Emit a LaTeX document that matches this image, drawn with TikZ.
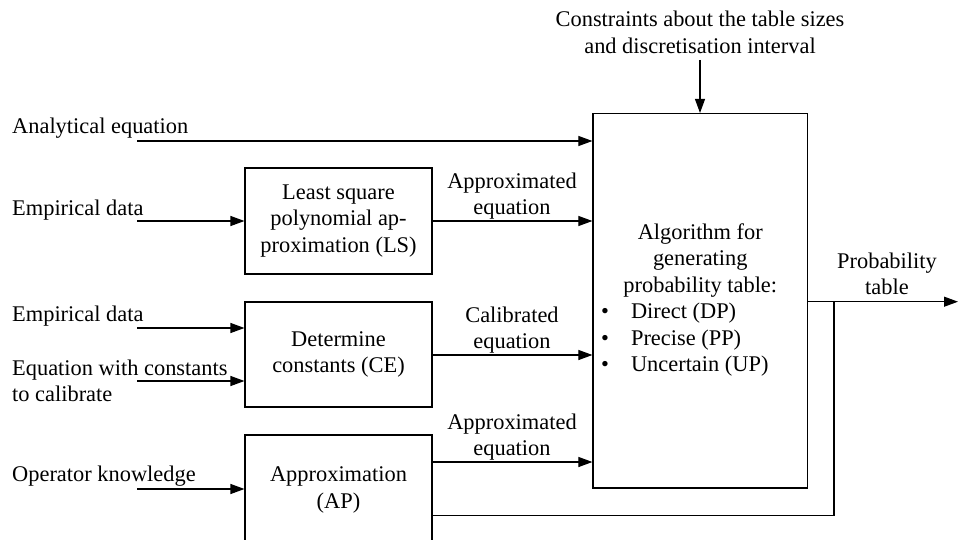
\documentclass[tikz,border=0pt]{standalone}
\usepackage{fontspec}
\setmainfont{Liberation Serif}
\usetikzlibrary{arrows.meta}

\begin{document}
\begin{tikzpicture}[x=1pt, y=-1pt,
  txt/.style={inner sep=0pt, font=\fontsize{22.4}{26.5}\selectfont},
  box/.style={draw, line width=1.1pt, inner sep=0pt,
    font=\fontsize{22.4}{26.5}\selectfont, align=center},
  flow/.style={line width=1.1pt, -{Triangle[length=14pt,width=10pt]}},
  wire/.style={line width=1.1pt}]
\useasboundingbox (0,0) rectangle (960,540);

% processing blocks
\node[box, minimum width=187pt, minimum height=106pt] (ls) at (338.5,221)
  {Least square\\polynomial ap-\\proximation (LS)};
\node[box, minimum width=187pt, minimum height=105pt] (ce) at (338.5,354.5)
  {Determine\\constants (CE)};
\node[box, minimum width=187pt, minimum height=110pt] (ap) at (338.5,490)
  {Approximation\\(AP)};
\node[box, minimum width=214.7pt, minimum height=374.5pt] (alg) at (700.3,300.75) {};

% text inside the algorithm block
\node[txt, anchor=base] (algtitle) at (700.3,239)
  {\begin{tabular}[t]{@{}c@{}}Algorithm for\\generating\\probability table:\end{tabular}};
\node[txt, anchor=base west] (alglist) at (601,318.5)
  {\begin{tabular}[t]{@{}l@{\hspace{22pt}}l@{}}\textbullet & Direct (DP)\\
   \textbullet & Precise (PP)\\ \textbullet & Uncertain (UP)\end{tabular}};

% external inputs
\node[txt, anchor=base west] (in1) at (12,134) {Analytical equation};
\node[txt, anchor=base west] (in2) at (12,215) {Empirical data};
\node[txt, anchor=base west] (in3) at (12,321.7) {Empirical data};
\node[txt, anchor=base west] (in4) at (12,375)
  {\begin{tabular}[t]{@{}l@{}}Equation with constants\\to calibrate\end{tabular}};
\node[txt, anchor=base west] (in5) at (12,481.7) {Operator knowledge};
\node[txt, anchor=base] (top) at (700,27)
  {\begin{tabular}[t]{@{}c@{}}Constraints about the table sizes\\and discretisation interval\end{tabular}};

\coordinate (s1) at (137,141);
\coordinate (s2) at (137,221);
\coordinate (s3) at (137,328);
\coordinate (s4) at (137,381);
\coordinate (s5) at (137,489);
\coordinate (st) at (700,60);

\draw[flow] (s1) -- (s1 -| alg.west);
\draw[flow] (s2) -- (s2 -| ls.west);
\draw[flow] (s3) -- (s3 -| ce.west);
\draw[flow] (s4) -- (s4 -| ce.west);
\draw[flow] (s5) -- (s5 -| ap.west);
\draw[flow] (st) -- (st |- alg.north);

% intermediate results
\coordinate (o1) at (432,221);
\coordinate (o2) at (432,355);
\coordinate (o3) at (432,462);
\draw[flow] (o1 -| ls.east) -- (o1 -| alg.west);
\draw[flow] (o2 -| ce.east) -- (o2 -| alg.west);
\draw[flow] (o3 -| ap.east) -- (o3 -| alg.west);

\node[txt, anchor=base] (l1) at (512,188)
  {\begin{tabular}[t]{@{}c@{}}Approximated\\equation\end{tabular}};
\node[txt, anchor=base] (l2) at (512,322)
  {\begin{tabular}[t]{@{}c@{}}Calibrated\\equation\end{tabular}};
\node[txt, anchor=base] (l3) at (512,429)
  {\begin{tabular}[t]{@{}c@{}}Approximated\\equation\end{tabular}};

% output and feedback path
\coordinate (out) at (958,301.7);
\coordinate (fb) at (834,515.7);
\draw[flow] (out -| alg.east) -- (out);
\draw[wire] (ap.east |- fb) -- (fb) -- (fb |- out);
\node[txt, anchor=base] (outlbl) at (887,268)
  {\begin{tabular}[t]{@{}c@{}}Probability\\table\end{tabular}};
\end{tikzpicture}
\end{document}
